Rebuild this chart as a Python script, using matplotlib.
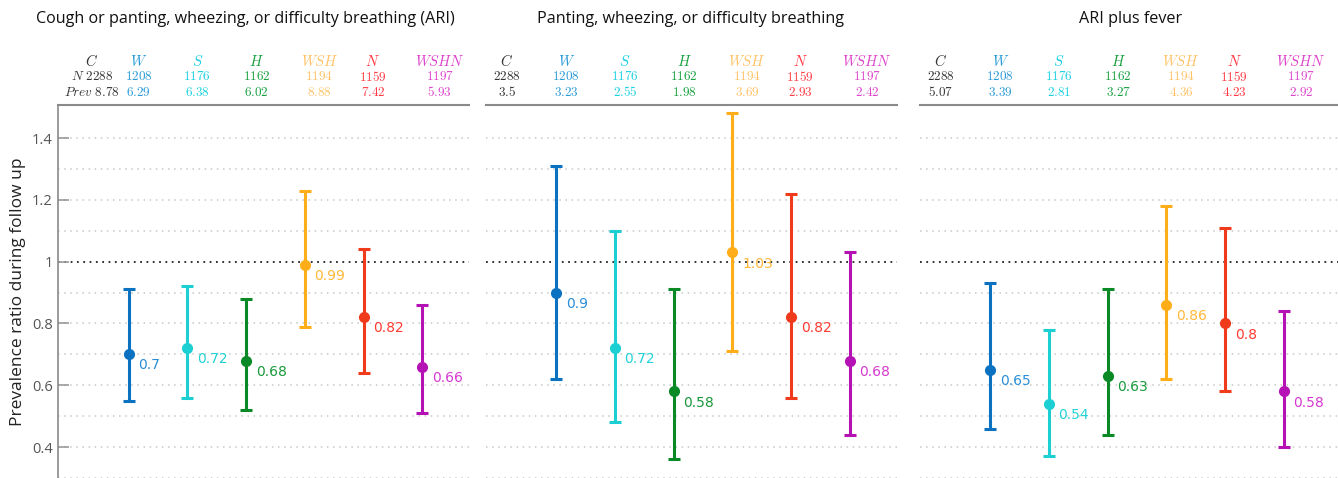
import numpy as np
import matplotlib
matplotlib.use('Agg')
import matplotlib.pyplot as plt
import matplotlib.transforms as mtransforms

plt.rcParams['mathtext.fontset'] = 'cm'
plt.rcParams['font.family'] = ['Open Sans', 'DejaVu Sans']

# ── data ──
panel_titles = ['Cough or panting, wheezing, or difficulty breathing (ARI)',
                'Panting, wheezing, or difficulty breathing',
                'ARI plus fever']
groups = ['C', 'W', 'S', 'H', 'WSH', 'N', 'WSHN']
group_n = ['2288', '1208', '1176', '1162', '1194', '1159', '1197']
prev = [['8.78', '6.29', '6.38', '6.02', '8.88', '7.42', '5.93'],
        ['3.5', '3.23', '2.55', '1.98', '3.69', '2.93', '2.42'],
        ['5.07', '3.39', '2.81', '3.27', '4.36', '4.23', '2.92']]

# prevalence ratios (W, S, H, WSH, N, WSHN) vs control
pr = [[0.70, 0.72, 0.68, 0.99, 0.82, 0.66],
      [0.90, 0.72, 0.58, 1.03, 0.82, 0.68],
      [0.65, 0.54, 0.63, 0.86, 0.80, 0.58]]
pr_lo = [[0.55, 0.56, 0.52, 0.79, 0.64, 0.51],
         [0.62, 0.48, 0.36, 0.71, 0.56, 0.44],
         [0.46, 0.37, 0.44, 0.62, 0.58, 0.40]]
pr_hi = [[0.91, 0.92, 0.88, 1.23, 1.04, 0.86],
         [1.31, 1.10, 0.91, 1.48, 1.22, 1.03],
         [0.93, 0.78, 0.91, 1.18, 1.11, 0.84]]
pr_labels = [['0.7', '0.72', '0.68', '0.99', '0.82', '0.66'],
             ['0.9', '0.72', '0.58', '1.03', '0.82', '0.68'],
             ['0.65', '0.54', '0.63', '0.86', '0.8', '0.58']]

# ── styles ──
bar_colors = ['#0b72c1', '#1ccfd3', '#0a8a26', '#ffae1a', '#f03a1c', '#b512b5']
lab_colors = ['#2a8ed6', '#22d3d8', '#17993a', '#ffb838', '#ff3b32', '#d53ad0']
head_colors = ['#333333', '#2a9ad8', '#19d0e0', '#17a040', '#ffc266', '#ff3a44', '#dd44cc']
head_x = [0.16, 1.17, 2.17, 3.18, 4.25, 5.16, 6.30]

W, H = 1338, 478
fig = plt.figure(figsize=(W / 100, H / 100), dpi=100)

step = 58.7
x0_px = [70.0, 497.5, 931.5]
xlims = [(-0.2, 6.8), (-0.2, 6.8), (-0.2, 6.95)]
top_px = 105

ylo, yhi = 0.3, 1.507

for p in range(3):
    lo, hi = xlims[p]
    left = x0_px[p] + lo * step
    width = (hi - lo) * step
    ax = fig.add_axes([left / W, 0, width / W, (H - top_px) / H])
    ax.set_xlim(lo, hi)
    ax.set_ylim(ylo, yhi)

    # grid
    for g in np.arange(0.3, 1.45, 0.1):
        if abs(g - 1.0) < 1e-6:
            continue
        ax.axhline(g, color='#c8c8c8', linestyle=(0, (1, 3)), linewidth=1.1, zorder=0)
    ax.axhline(1.0, color='#222222', linestyle=(0, (1, 2.5)), linewidth=1.3, zorder=1)

    x = np.arange(1, 7)
    for i in range(6):
        ax.errorbar(x[i], pr[p][i],
                    yerr=[[pr[p][i] - pr_lo[p][i]], [pr_hi[p][i] - pr[p][i]]],
                    fmt='o', color=bar_colors[i], ecolor=bar_colors[i],
                    elinewidth=2.2, capsize=4, capthick=2.2, markersize=7, zorder=3)
        ax.annotate(pr_labels[p][i], (x[i], pr[p][i]), xytext=(7, -8),
                    textcoords='offset points', ha='left', va='center',
                    fontsize=10, color=lab_colors[i], family='DejaVu Sans')

    for s in ['right', 'bottom']:
        ax.spines[s].set_visible(False)
    ax.spines['top'].set_color('#8a8a8a')
    ax.spines['top'].set_linewidth(1.5)
    ax.set_xticks([])
    if p == 0:
        ax.spines['left'].set_color('#8a8a8a')
        ax.spines['left'].set_linewidth(1.2)
        ax.set_yticks([0.4, 0.6, 0.8, 1.0, 1.2, 1.4])
        ax.set_yticklabels(['0.4', '0.6', '0.8', '1', '1.2', '1.4'])
        ax.tick_params(axis='y', direction='in', length=8, width=1.2, color='#999999',
                       labelcolor='#555555', labelsize=10.5, pad=4)
        ax.set_ylabel('Prevalence ratio during follow up', fontsize=12.5, color='#222222',
                      labelpad=4)
    else:
        ax.spines['left'].set_visible(False)
        ax.set_yticks([])

    # header table
    tr = mtransforms.blended_transform_factory(ax.transData, fig.transFigure)
    rows_y = [1 - 62 / H, 1 - 77 / H, 1 - 92 / H]
    for j, g in enumerate(groups):
        hx = head_x[j]
        if p == 0 and j == 0:
            hx = 0.37
            t2 = r'$N\ 2288$'
            t3 = r'$Prev\ ' + prev[p][j] + '$'
        else:
            t2 = '$' + group_n[j] + '$'
            t3 = '$' + prev[p][j] + '$'
        ax.text(hx, rows_y[0], '$' + g + '$', transform=tr, ha='center', va='center',
                fontsize=10.5, color=head_colors[j])
        ax.text(hx, rows_y[1], t2, transform=tr, ha='center', va='center',
                fontsize=9.5, color=head_colors[j])
        ax.text(hx, rows_y[2], t3, transform=tr, ha='center', va='center',
                fontsize=9.5, color=head_colors[j])

    # panel title
    tx = [(40 + 450) / 2, 690, 1131][p]
    fig.text(tx / W, 1 - 19 / H, panel_titles[p], ha='center', va='center',
             fontsize=11.6, color='#111111')

fig.savefig('out.png', dpi=100)
